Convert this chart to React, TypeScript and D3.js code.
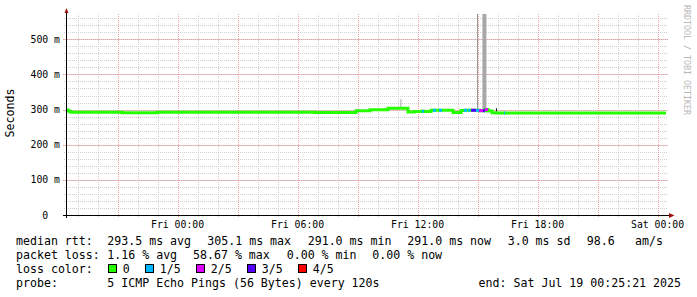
import React from "react";
import * as d3 from "d3";

// ---- data ----
const startTime = new Date(2025, 6, 17, 18, 25, 21);
const endTime = new Date(2025, 6, 19, 0, 25, 21);

// median rtt steps: hours since start, value in ms, loss category index
const medianHours = [0.0, 0.1, 0.2, 0.3, 2.8, 4.55, 12.45, 14.5, 15.2, 16.1, 17.1, 17.4, 17.8, 17.9, 18.25, 18.35, 18.5, 18.65, 18.8, 19.35, 19.75, 19.9, 20.05, 20.1, 20.2, 20.25, 20.5, 20.65, 20.85, 20.95, 21.1, 21.3, 21.5, 21.9, 21.95];
const medianValues = [299, 296, 293, 292.5, 291, 292.5, 291.5, 297, 299.5, 304, 293, 294.5, 295, 294.5, 298, 298, 298, 298, 298, 292, 297.5, 298, 298, 298, 298, 298, 298, 297, 297, 300, 296, 291, 290.5, 290.5, 290.5];
const medianLoss = [0, 0, 0, 0, 0, 0, 0, 0, 0, 0, 0, 0, 1, 0, 0, 1, 0, 1, 0, 0, 0, 1, 0, 1, 0, 3, 1, 2, 3, 2, 0, 0, 0, 1, 0];

// smoke (ping spread): hours since start, span hours, low ms, high ms, shade
const smokeHours = [14.5, 16.1, 16.72, 20.55, 20.82, 21.5];
const smokeSpan = [0.05, 0.05, 0.05, 0.05, 0.2, 0.05];
const smokeLow = [292, 300, 305, 296, 296, 289];
const smokeHigh = [300, 305, 330, 700, 700, 304];
const smokeShade = ["#333333", "#555555", "#aaaaaa", "#999999", "#a8a8a8", "#222222"];

const yTickValues = [0, 100, 200, 300, 400, 500];
const yTickLabels = ["0  ", "100 m", "200 m", "300 m", "400 m", "500 m"];
const xTickLabels = ["Fri 00:00", "Fri 06:00", "Fri 12:00", "Fri 18:00", "Sat 00:00"];

const lossLabels = ["0", "1/5", "2/5", "3/5", "4/5"];
const lossColors = ["#26ff00", "#00b8ff", "#dd00ff", "#5500ff", "#ff0000"];

const rttStats = ["293.5 ms avg", "305.1 ms max", "291.0 ms min", "291.0 ms now", "3.0 ms sd", "98.6", "am/s"];
const lossStats = ["1.16 % avg", "58.67 % max", "0.00 % min", "0.00 % now"];
const probeText = "5 ICMP Echo Pings (56 Bytes) every 120s";
const endText = "end: Sat Jul 19 00:25:21 2025";

// ---- layout ----
const W = 697, H = 297;
const rttX = [107.3, 207.3, 307.7, 407.3, 507.7, 586.7, 635];
const lossX = [107.3, 193, 286.7, 372.3];
const MONO = "DejaVu Sans Mono";

const hToDate = (h: number) => new Date(startTime.getTime() + h * 3600e3);

export default function App() {
  const x = d3.scaleTime().domain([startTime, endTime]).range([66, 666]);
  const y = d3.scaleLinear().domain([0, 572]).range([215, 14]);

  const minorX = x.ticks(d3.timeHour.every(1)!);
  const majorX = x.ticks(d3.timeHour.every(3)!);
  const labelX = x.ticks(d3.timeHour.every(6)!);
  const minorY = d3.range(0, 572, 20);
  const majorY = d3.range(0, 572, 100);

  const pts = medianHours.map((h, i) => ({ t: hToDate(h), v: medianValues[i] }));
  pts.push({ t: endTime, v: medianValues[medianValues.length - 1] });
  const line = d3
    .line<{ t: Date; v: number }>()
    .x((d) => x(d.t))
    .y((d) => y(d.v))
    .curve(d3.curveStepAfter);

  const segs = medianHours
    .map((h, i) => ({
      x0: x(hToDate(h)),
      x1: x(i + 1 < medianHours.length ? hToDate(medianHours[i + 1]) : endTime),
      y: y(medianValues[i]),
      c: medianLoss[i],
    }))
    .filter((s) => s.c > 0);

  // legend boxes
  const boxes: { bx: number; lx: number; i: number }[] = [];
  let bx = 108.3;
  lossLabels.forEach((l, i) => {
    const lx = bx + 14.5;
    boxes.push({ bx, lx, i });
    bx = lx + l.length * 7 + 15.5;
  });

  return (
    <svg
      width={W}
      height={H}
      style={{ position: "fixed", left: 0, top: 0, background: "#fff" }}
      fontFamily={MONO}
    >
      <defs>
        <clipPath id="plot">
          <rect x={66} y={14} width={602} height={201} />
        </clipPath>
      </defs>
      <rect x={0} y={0} width={W} height={H} fill="#fff" />

      {/* minor grid */}
      {minorY.map((v) => (
        <line key={"my" + v} x1={64} x2={668} y1={Math.round(y(v)) + 0.5} y2={Math.round(y(v)) + 0.5}
          stroke="#cfcfcf" strokeDasharray="1,1" />
      ))}
      {minorX.map((t) => (
        <line key={"mx" + +t} x1={Math.round(x(t)) + 0.5} x2={Math.round(x(t)) + 0.5} y1={14} y2={217}
          stroke="#cfcfcf" strokeDasharray="1,1" />
      ))}
      {/* major grid */}
      {majorY.map((v) => (
        <line key={"My" + v} x1={63} x2={668} y1={Math.round(y(v)) + 0.5} y2={Math.round(y(v)) + 0.5}
          stroke="#eba3a3" strokeDasharray="1,1" />
      ))}
      {majorX.map((t) => (
        <line key={"Mx" + +t} x1={Math.round(x(t)) + 0.5} x2={Math.round(x(t)) + 0.5} y1={14} y2={218}
          stroke="#eba3a3" strokeDasharray="1,1" />
      ))}

      {/* data */}
      <g clipPath="url(#plot)">
        {smokeHours.map((h, i) => {
          const x0 = x(hToDate(h));
          const x1 = x(hToDate(h + smokeSpan[i]));
          return (
            <rect key={"s" + i} x={x0} width={Math.max(1, x1 - x0)} y={y(smokeHigh[i])}
              height={y(smokeLow[i]) - y(smokeHigh[i])} fill={smokeShade[i]} />
          );
        })}
        <path d={line(pts) || ""} fill="none" stroke={lossColors[0]} strokeWidth={3} />
        {segs.map((s, i) => (
          <line key={"c" + i} x1={s.x0} x2={s.x1} y1={s.y} y2={s.y} stroke={lossColors[s.c]} strokeWidth={3} />
        ))}
      </g>

      {/* axes */}
      <line x1={66.5} x2={66.5} y1={218} y2={11} stroke="#000" />
      <line x1={63} x2={670} y1={215.5} y2={215.5} stroke="#000" />
      <path d="M64.5,13 L68.5,13 L66.5,8 Z" fill="#a01010" />
      <path d="M669,213 L669,218 L674.5,215.5 Z" fill="#a01010" />

      {/* y labels */}
      {yTickValues.map((v, i) => (
        <text key={"yl" + v} x={60} y={y(v) + 3.5} textAnchor="end" fontSize={9.8}
          style={{ whiteSpace: "pre" }} fill="#000">
          {yTickLabels[i]}
        </text>
      ))}
      {/* x labels */}
      {labelX.map((t, i) => (
        <text key={"xl" + +t} x={x(t)} y={228} textAnchor="middle" fontSize={9.8} fill="#000">
          {xTickLabels[i]}
        </text>
      ))}

      {/* axis title */}
      <text transform="translate(14,113) rotate(-90)" textAnchor="middle" fontSize={11.6} fill="#000">
        Seconds
      </text>

      {/* watermark */}
      <text transform="translate(684,5) rotate(90)" fontSize={8.3} fill="#b8b8b8">
        RRDTOOL / TOBI OETIKER
      </text>

      {/* legend */}
      <g fontSize={11.6} fill="#000" style={{ whiteSpace: "pre" }}>
        <text x={16} y={245}>median rtt:</text>
        {rttStats.map((s, i) => (
          <text key={"r" + i} x={rttX[i]} y={245}>{s}</text>
        ))}
        <text x={16} y={259}>packet loss:</text>
        {lossStats.map((s, i) => (
          <text key={"l" + i} x={lossX[i]} y={259}>{s}</text>
        ))}
        <text x={16} y={273}>loss color:</text>
        {boxes.map((b) => (
          <g key={"b" + b.i}>
            <rect x={Math.round(b.bx) + 0.5} y={264.5} width={8} height={8} fill={lossColors[b.i]} stroke="#000" />
            <text x={b.lx} y={273}>{lossLabels[b.i]}</text>
          </g>
        ))}
        <text x={16} y={287}>probe:</text>
        <text x={107.3} y={287}>{probeText}</text>
        <text x={681} y={287} textAnchor="end">{endText}</text>
      </g>
    </svg>
  );
}
